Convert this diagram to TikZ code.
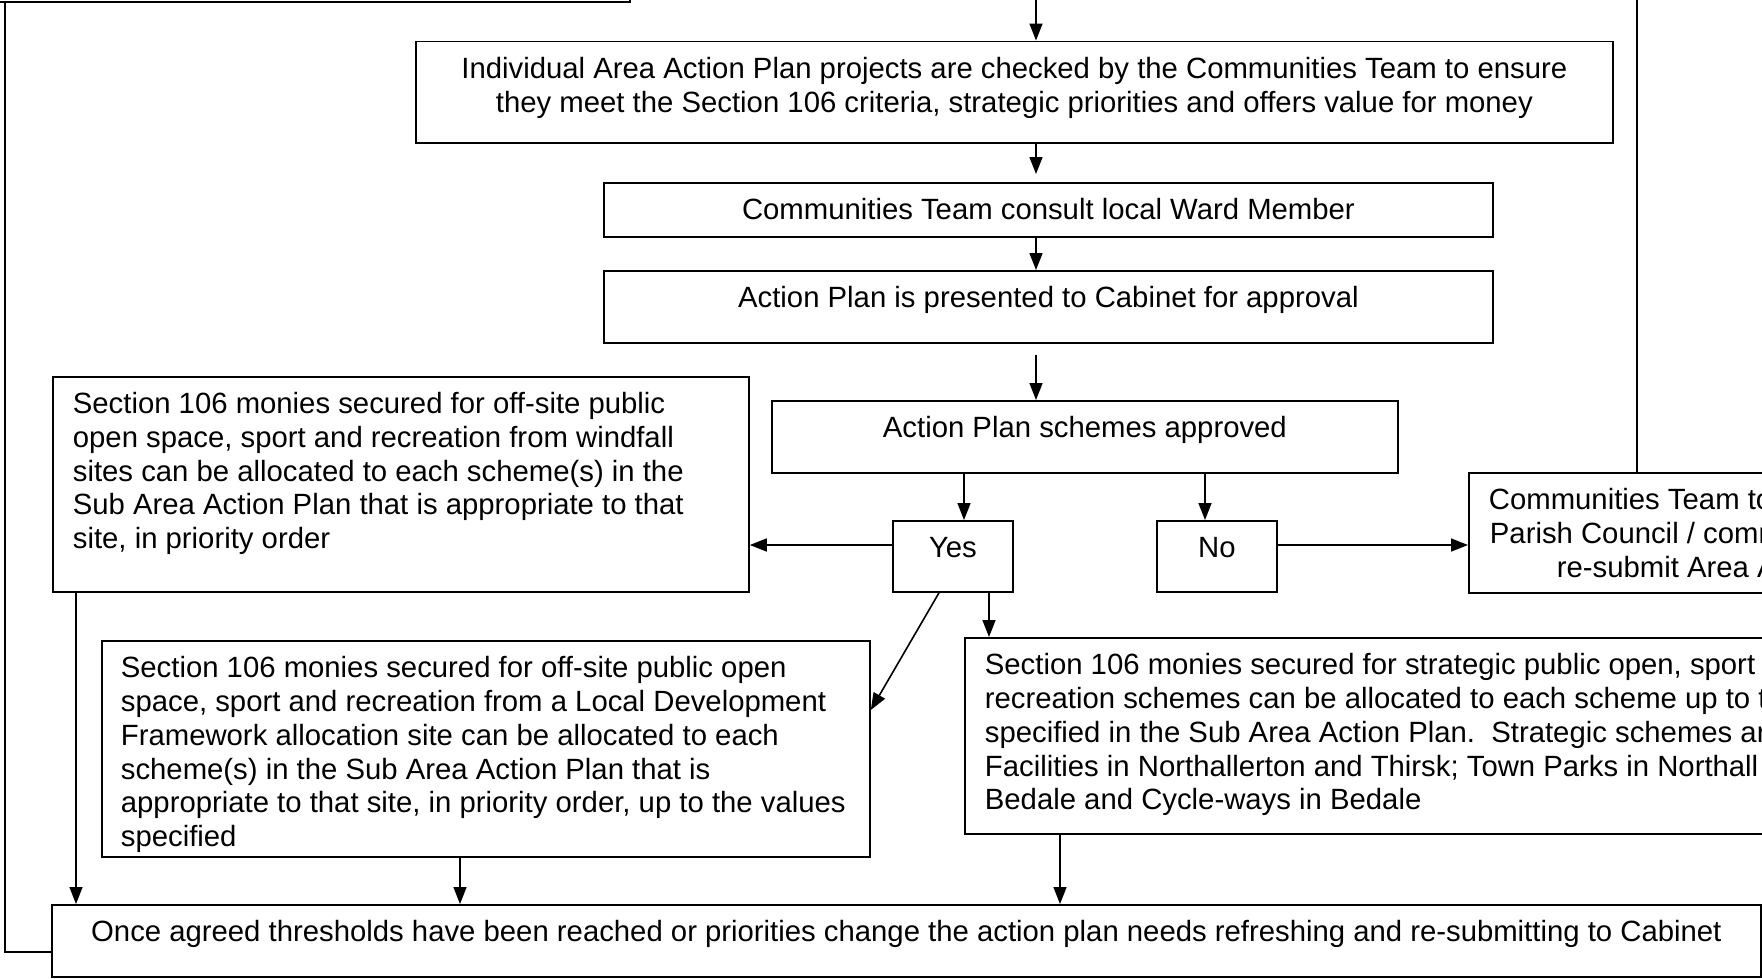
\documentclass[tikz,border=0pt]{standalone}
\usepackage{fontspec}
\setmainfont{Liberation Sans}
\usetikzlibrary{arrows.meta}
\frenchspacing
\newcommand{\bxt}[4]{\parbox[c][#2][t]{#1}{#3\vspace*{13.4pt}\strut#4}}
\begin{document}
\begin{tikzpicture}[x=1pt,y=-1pt,
  box/.style={draw, line width=1.8pt, inner sep=0pt, anchor=north west,
    font=\fontsize{29.3}{33.7}\selectfont},
  conn/.style={line width=1.6pt},
  arr/.style={conn, -{Triangle[length=17pt,width=13pt]}}]
\useasboundingbox (0,0) rectangle (1762,978);
\clip (0,0) rectangle (1762,978);
\fill[white] (0,0) rectangle (1762,978);

% boxes
\node[box, anchor=south east, minimum width=700pt, minimum height=100pt] (prev) at (631,3) {};
\node[box, minimum width=1197pt, minimum height=101.5pt] (ind) at (415,40.5)
  {\bxt{1197pt}{101.5pt}{\centering}{Individual Area Action Plan projects are checked by the Communities Team to ensure\\they meet the Section 106 criteria, strategic priorities and offers value for money}};
\node[box, minimum width=889pt, minimum height=54pt] (ward) at (603,182)
  {\bxt{889pt}{54pt}{\centering}{Communities Team consult local Ward Member}};
\node[box, minimum width=889pt, minimum height=72pt] (cab) at (603,270)
  {\bxt{889pt}{72pt}{\centering}{Action Plan is presented to Cabinet for approval}};
\node[box, minimum width=626pt, minimum height=72pt] (sch) at (771,400)
  {\bxt{626pt}{72pt}{\centering}{Action Plan schemes approved}};
\node[box, minimum width=120pt, minimum height=71pt] (yes) at (892,520)
  {\bxt{120pt}{71pt}{\centering}{Yes}};
\node[box, minimum width=120pt, minimum height=71pt] (no) at (1156,520)
  {\bxt{120pt}{71pt}{\centering}{No}};
\node[box, inner xsep=20pt, minimum width=696pt, minimum height=215pt] (left) at (52,376)
  {\bxt{656pt}{215pt}{\raggedright}{Section 106 monies secured for off-site public\\open space, sport and recreation from windfall\\sites can be allocated to each scheme(s) in the\\Sub Area Action Plan that is appropriate to that\\site, in priority order}};
\node[box, minimum width=500pt, minimum height=120pt] (cteam) at (1468,472)
  {\bxt{500pt}{120pt}{\raggedright}{\hspace*{20pt}Communities Team to\\\hspace*{21pt}Parish Council / comm\\\hspace*{88pt}re-submit Area A}};
\node[box, inner xsep=19pt, minimum width=768pt, minimum height=216pt] (mid) at (101,640)
  {\bxt{730pt}{216pt}{\raggedright}{Section 106 monies secured for off-site public open\\space, sport and recreation from a Local Development\\Framework allocation site can be allocated to each\\scheme(s) in the Sub Area Action Plan that is\\appropriate to that site, in priority order, up to the values\\specified}};
\node[box, inner xsep=20pt, minimum width=900pt, minimum height=196pt] (rlow) at (964,637)
  {\bxt{860pt}{196pt}{\raggedright}{Section 106 monies secured for strategic public open, sport\\recreation schemes can be allocated to each scheme up to t\\specified in the Sub Area Action Plan.~ Strategic schemes ar\\Facilities in Northallerton and Thirsk; Town Parks in Northall\\Bedale and Cycle-ways in Bedale}};
\node[box, minimum width=1709pt, minimum height=72pt] (bot) at (51,904)
  {\bxt{1709pt}{72pt}{\centering}{Once agreed thresholds have been reached or priorities change the action plan needs refreshing and re-submitting to Cabinet}};

% connectors
\coordinate (topin) at (1036,-20);
\draw[arr] (topin) -- (topin |- ind.north);
\draw[arr, shorten >=8pt] (topin |- ind.south) -- (topin |- ward.north);
\draw[arr] (topin |- ward.south) -- (topin |- cab.north);
\draw[arr, shorten <=11pt] (topin |- cab.south) -- (topin |- sch.north);
\coordinate (ycol) at (964,0);
\coordinate (ncol) at (1205,0);
\draw[arr] (ycol |- sch.south) -- (ycol |- yes.north);
\draw[arr] (ncol |- sch.south) -- (ncol |- no.north);
\coordinate (yrow) at (0,545);
\draw[arr] (yes.west |- yrow) -- (left.east |- yrow);
\draw[arr] (no.east |- yrow) -- (cteam.west |- yrow);
\coordinate (ydiag) at (939,0);
\coordinate (mrow) at (0,710);
\draw[arr] (ydiag |- yes.south) -- (mid.east |- mrow);
\coordinate (ydown) at (989,0);
\draw[arr] (ydown |- yes.south) -- (ydown |- rlow.north);
\coordinate (c1) at (76,0);
\coordinate (c2) at (460,0);
\coordinate (c3) at (1060,0);
\draw[arr] (c1 |- left.south) -- (c1 |- bot.north);
\draw[arr] (c2 |- mid.south) -- (c2 |- bot.north);
\draw[arr] (c3 |- rlow.south) -- (c3 |- bot.north);
\coordinate (fb) at (5,952);
\draw[conn] (bot.west |- fb) -- (fb) -- (fb |- prev.south);
\coordinate (uptop) at (1637,-20);
\draw[conn] (uptop |- cteam.north) -- (uptop);
\end{tikzpicture}
\end{document}
